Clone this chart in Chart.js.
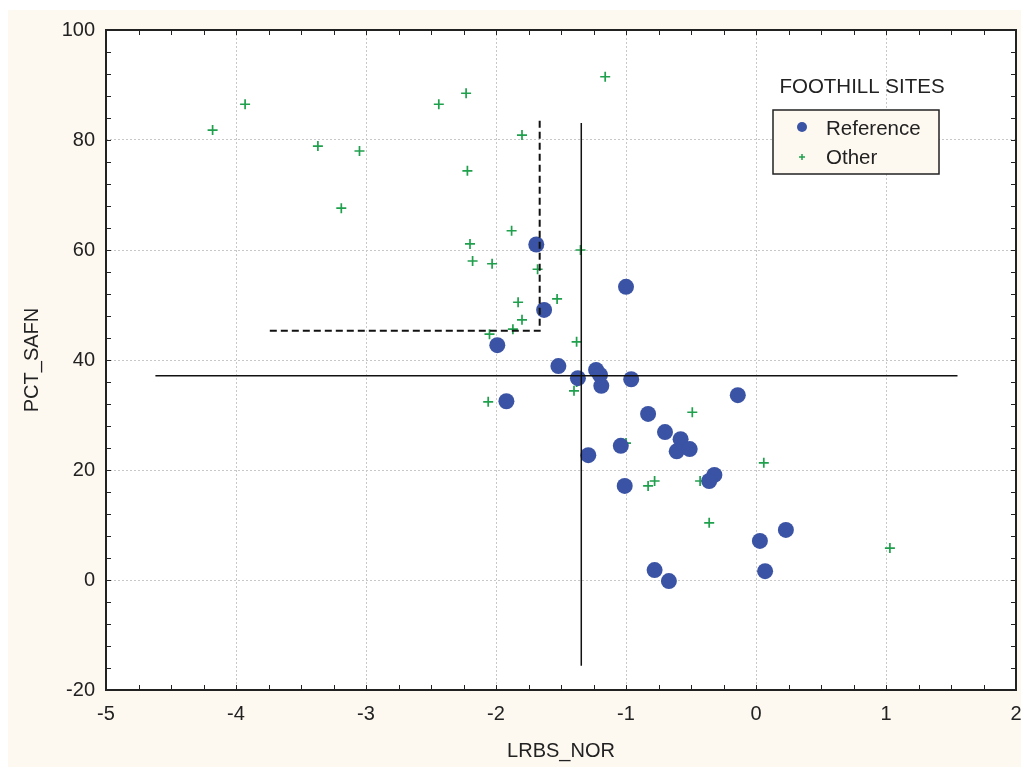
<!DOCTYPE html>
<html>
<head>
<meta charset="utf-8">
<script src="https://cdn.jsdelivr.net/npm/chart.js@4/dist/chart.umd.min.js"></script>
<style>
  body { margin: 0; background: #fff; }
  #wrap { width: 1021px; height: 767px; }
</style>
</head>
<body>
<div id="wrap"><canvas id="plot" width="1021" height="767"></canvas></div>
<script>
// Reference sites (blue dots)
const refX = [-1.69, -1.00, -1.63, -1.99, -1.52, -1.23, -1.20, -1.37, -0.96, -1.19, -1.92, -0.14, -0.83, -0.70,
              -0.58, -1.04, -0.61, -0.51, -1.29, -0.32, -0.36, -1.01, 0.03, 0.23, 0.07, -0.78, -0.67];
const refY = [61.0, 53.3, 49.1, 42.7, 38.9, 38.2, 37.3, 36.7, 36.5, 35.3, 32.5, 33.6, 30.2, 26.9,
              25.6, 24.4, 23.4, 23.8, 22.7, 19.1, 18.0, 17.1, 7.1, 9.1, 1.6, 1.8, -0.2];

// Other sites (green crosses)
const otherX = [-4.18, -3.93, -3.37, -3.05, -3.19, -2.44, -2.23, -2.22, -1.16, -1.80, -2.20, -2.18, -1.88,
                -2.03, -1.68, -1.35, -1.83, -1.53, -1.80, -2.05, -1.87, -1.38, -1.38, -1.40, -2.06, -0.49,
                -1.00, -0.57, 0.06, -0.78, -0.83, -0.43, -0.36, 1.03];
const otherY = [81.8, 86.5, 78.9, 78.0, 67.6, 86.5, 88.5, 74.4, 91.5, 80.9, 61.1, 58.0, 63.5,
                57.5, 56.5, 60.0, 50.5, 51.1, 47.3, 44.7, 45.6, 43.3, 36.0, 34.4, 32.4, 30.5,
                24.9, 23.6, 21.3, 18.0, 17.1, 18.0, 10.4, 5.8];

// reference lines
const vLineX = [-1.344, -1.344];
const vLineY = [83.1, -15.6];
const hLineX = [-4.62, 1.55];
const hLineY = [37.15, 37.15];
const boxX = [-3.74, -1.664, -1.664];
const boxY = [45.3, 45.3, 83.6];

const xTicks = [-5, -4, -3, -2, -1, 0, 1, 2];
const yTicks = [-20, 0, 20, 40, 60, 80, 100];

const FONT = '"Liberation Sans", Arial, sans-serif';
const BLUE = '#3a53a4';
const GREEN = '#1fa04c';
const CREAM = '#fdf8f0';

const pts = (xs, ys) => xs.map((x, i) => ({x: x, y: ys[i]}));

const backdrop = {
    id: 'backdrop',
    beforeDraw(chart) {
        const {ctx, chartArea: a} = chart;
        ctx.save();
        ctx.fillStyle = '#fff';
        ctx.fillRect(0, 0, chart.width, chart.height);
        ctx.fillStyle = CREAM;
        ctx.fillRect(8, 10, chart.width - 8, chart.height - 10);
        ctx.fillStyle = '#fff';
        ctx.fillRect(a.left, a.top, a.right - a.left, a.bottom - a.top);
        ctx.restore();
    }
};

const frame = {
    id: 'frame',
    afterDraw(chart) {
        const {ctx, chartArea: a, scales} = chart;
        const xs = scales.x, ys = scales.y;
        ctx.save();
        ctx.strokeStyle = '#222';
        ctx.lineWidth = 1;
        ctx.beginPath();
        for (let v = -5; v <= 2.001; v += 0.25) {
            const px = Math.round(xs.getPixelForValue(v)) + 0.5;
            ctx.moveTo(px, a.bottom); ctx.lineTo(px, a.bottom - 5);
            ctx.moveTo(px, a.top); ctx.lineTo(px, a.top + 5);
        }
        for (let v = -20; v <= 100.001; v += 4) {
            const py = Math.round(ys.getPixelForValue(v)) + 0.5;
            ctx.moveTo(a.left, py); ctx.lineTo(a.left + 5, py);
            ctx.moveTo(a.right, py); ctx.lineTo(a.right - 5, py);
        }
        ctx.stroke();
        ctx.lineWidth = 2;
        ctx.strokeRect(a.left, a.top, a.right - a.left, a.bottom - a.top);

        // legend
        const lx = a.right - 243, ly = a.top + 80;
        ctx.font = '20.5px ' + FONT;
        ctx.fillStyle = '#222';
        ctx.textAlign = 'center';
        ctx.textBaseline = 'middle';
        ctx.fillText('FOOTHILL SITES', lx + 89, ly - 23);
        ctx.fillStyle = CREAM;
        ctx.fillRect(lx, ly, 166, 64);
        ctx.lineWidth = 1.5;
        ctx.strokeStyle = '#222';
        ctx.strokeRect(lx, ly, 166, 64);
        ctx.fillStyle = BLUE;
        ctx.beginPath();
        ctx.arc(lx + 29, ly + 17, 5, 0, Math.PI * 2);
        ctx.fill();
        ctx.strokeStyle = GREEN;
        ctx.lineWidth = 1.5;
        ctx.beginPath();
        ctx.moveTo(lx + 26, ly + 47); ctx.lineTo(lx + 32, ly + 47);
        ctx.moveTo(lx + 29, ly + 44); ctx.lineTo(lx + 29, ly + 50);
        ctx.stroke();
        ctx.fillStyle = '#222';
        ctx.textAlign = 'left';
        ctx.fillText('Reference', lx + 53, ly + 19);
        ctx.fillText('Other', lx + 53, ly + 48);
        ctx.restore();
    }
};

new Chart(document.getElementById('plot'), {
    type: 'scatter',
    data: {
        datasets: [
            {
                label: 'hline', type: 'line', data: pts(hLineX, hLineY), order: 1,
                borderColor: '#111', borderWidth: 1.5, pointRadius: 0, fill: false
            },
            {
                label: 'vline', type: 'line', data: pts(vLineX, vLineY), order: 1,
                borderColor: '#111', borderWidth: 1.5, pointRadius: 0, fill: false
            },
            {
                label: 'box', type: 'line', data: pts(boxX, boxY), order: 1,
                borderColor: '#111', borderWidth: 2, borderDash: [7, 4], pointRadius: 0, fill: false
            },
            {
                label: 'Reference', data: pts(refX, refY), order: 2,
                pointStyle: 'circle', pointRadius: 8, backgroundColor: BLUE, borderColor: BLUE, borderWidth: 0
            },
            {
                label: 'Other', data: pts(otherX, otherY), order: 3,
                pointStyle: 'cross', pointRadius: 5, borderColor: GREEN, borderWidth: 1.7
            }
        ]
    },
    options: {
        responsive: false,
        animation: false,
        layout: { autoPadding: false, padding: { top: 30, right: 5, left: 0, bottom: 0 } },
        plugins: { legend: { display: false }, tooltip: { enabled: false } },
        scales: {
            x: {
                type: 'linear', min: -5, max: 2,
                afterBuildTicks: s => { s.ticks = xTicks.map(v => ({value: v})); },
                afterFit: s => { s.height = 77; s.paddingLeft = 0; s.paddingRight = 0; },
                grid: { color: '#c8c8c8', lineWidth: 1, drawTicks: false },
                border: { display: false, dash: [2, 2] },
                ticks: { color: '#222', padding: 12, font: { size: 20, family: FONT } },
                title: { display: true, text: 'LRBS_NOR', color: '#222',
                         font: { size: 20, family: FONT }, padding: { top: 0, bottom: 4 } }
            },
            y: {
                type: 'linear', min: -20, max: 100,
                afterBuildTicks: s => { s.ticks = yTicks.map(v => ({value: v})); },
                afterFit: s => { s.width = 106; s.paddingTop = 0; s.paddingBottom = 0; },
                grid: { color: '#c8c8c8', lineWidth: 1, drawTicks: false },
                border: { display: false, dash: [2, 2] },
                ticks: { color: '#222', padding: 11, font: { size: 20, family: FONT } },
                title: { display: true, text: 'PCT_SAFN', color: '#222',
                         font: { size: 20, family: FONT }, padding: { top: 20, bottom: 0 } }
            }
        }
    },
    plugins: [backdrop, frame]
});
</script>
</body>
</html>
